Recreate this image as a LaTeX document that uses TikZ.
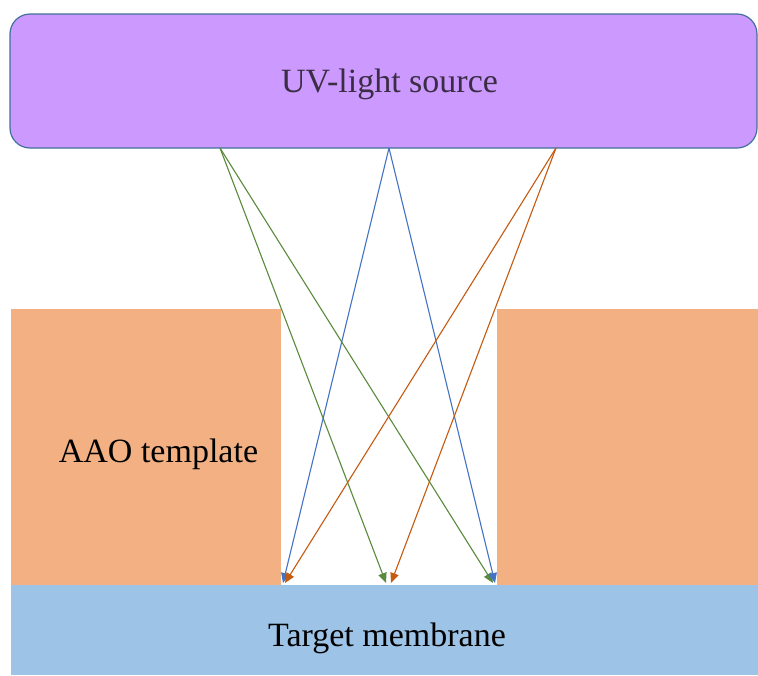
\documentclass[tikz,border=0pt]{standalone}
\usepackage{fontspec}
\setmainfont{Liberation Serif}
\usetikzlibrary{arrows.meta}
\definecolor{uvfill}{HTML}{CC99FF}
\definecolor{uvdraw}{HTML}{41719C}
\definecolor{uvtextc}{HTML}{3A2D45}
\definecolor{aaofill}{HTML}{F2B083}
\definecolor{membfill}{HTML}{9DC3E6}
\definecolor{rayg}{HTML}{5A8A3C}
\definecolor{rayb}{HTML}{4472C4}
\definecolor{rayo}{HTML}{C55A11}
\tikzset{
  slab/.style={inner sep=0pt, outer sep=0pt, anchor=north west, draw=none},
  lbl/.style={inner sep=0pt, anchor=base, font=\fontsize{34}{41}\selectfont, text=black},
  ray/.style={line width=1.1pt, -{Triangle[length=10pt,width=8.5pt]}},
}
\begin{document}
\begin{tikzpicture}[x=1pt,y=-1pt]
\useasboundingbox[fill=white] (0,0) rectangle (758,675);
% slabs
\node[slab, fill=aaofill, minimum width=270, minimum height=277] (aaoL) at (11,309) {};
\node[slab, fill=aaofill, minimum width=261, minimum height=277] (aaoR) at (497,309) {};
\node[slab, fill=membfill, minimum width=747, minimum height=90] (memb) at (11,585) {};
\node[slab, draw=uvdraw, line width=1.2pt, fill=uvfill, rounded corners=20pt, minimum width=747, minimum height=134] (uv) at (10,14) {};
% labels
\node[lbl, text=uvtextc] (uvtext) at (389.5,92) {UV-light source};
\node[lbl] (aaotext) at (158.5,462) {AAO template};
\node[lbl] (membtext) at (387,646) {Target membrane};
% ray sources and targets
\coordinate (s1) at (220,148);
\coordinate (s2) at (389,148);
\coordinate (s3) at (556,148);
\coordinate (tg1) at (386,583);
\coordinate (tg2) at (493,583);
\coordinate (tb1) at (283,583);
\coordinate (tb2) at (495,583);
\coordinate (to1) at (285,583);
\coordinate (to2) at (391,583);
\draw[ray, rayg] (s1) -- (tg1);
\draw[ray, rayg] (s1) -- (tg2);
\draw[ray, rayb] (s2) -- (tb1);
\draw[ray, rayb] (s2) -- (tb2);
\draw[ray, rayo] (s3) -- (to1);
\draw[ray, rayo] (s3) -- (to2);
\end{tikzpicture}
\end{document}
